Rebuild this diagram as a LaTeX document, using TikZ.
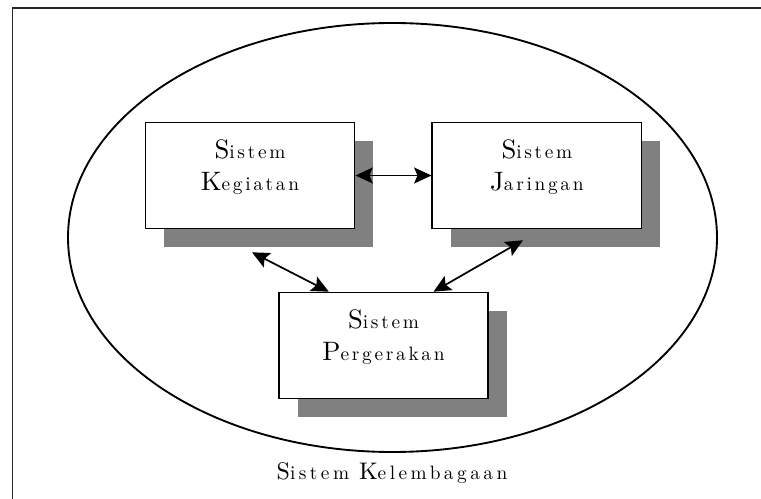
\documentclass[tikz,border=0pt]{standalone}
\usepackage{fontspec}
\setmainfont{lmroman10-regular.otf}[BoldFont=lmroman10-bold.otf]
\usepackage{tikz}
\usetikzlibrary{arrows.meta,positioning,shapes.geometric,shadows}
\newcommand{\capl}[1]{{\fontsize{20}{24}\selectfont #1}}

\begin{document}
\begin{tikzpicture}[
  x=0.75pt, y=-0.75pt,
  node distance=57pt,
  every node/.style={font=\addfontfeatures{LetterSpace=14}\fontsize{14.5}{24}\selectfont},
  box/.style={draw, line width=1.2pt, fill=white, minimum width=157pt, minimum height=79.5pt,
              drop shadow={shadow xshift=14pt, shadow yshift=-14pt, fill=black!50, opacity=1}},
  txt/.style={align=center, yshift=6.5pt},
  arr/.style={{Stealth[length=13pt,width=12pt,inset=2.5pt]}-{Stealth[length=13pt,width=12pt,inset=2.5pt]}, line width=1.3pt}
]
  \useasboundingbox (0,0) rectangle (761,499);
  \draw[line width=1.4pt, black!85] (12.5,499) |- (761,8);
  % Nodes
  \node[ellipse, draw, line width=1.4pt, minimum width=486.75pt, minimum height=321.75pt] (inst) at (392.5,237.5) {};
  \node[anchor=base, font=\addfontfeatures{LetterSpace=18}\fontsize{14.5}{20}\selectfont] (inst-t) at (392,479)
    {{\fontsize{18}{20}\selectfont S}istem {\fontsize{18}{20}\selectfont K}elembagaan};
  \node[box] (keg) at (250,175.5) {};
  \node[box, right=of keg] (jar) {};
  \node[box] (perg) at (383.5,345.5) {};
  \node[txt] (keg-t)  at (keg.center)  {\capl{S}istem\\\capl{K}egiatan};
  \node[txt] (jar-t)  at (jar.center)  {\capl{S}istem\\\capl{J}aringan};
  \node[txt] (perg-t) at (perg.center) {\capl{S}istem\\\capl{P}ergerakan};
  % Arrows
  \draw[arr] (keg.east) -- (jar.west);
  \draw[arr] ([shift={(2,23)}]keg.south) -- ([xshift=-41pt]perg.north);
  \draw[arr] ([shift={(-14,11)}]jar.south) -- ([xshift=37.5pt]perg.north);
\end{tikzpicture}
\end{document}
